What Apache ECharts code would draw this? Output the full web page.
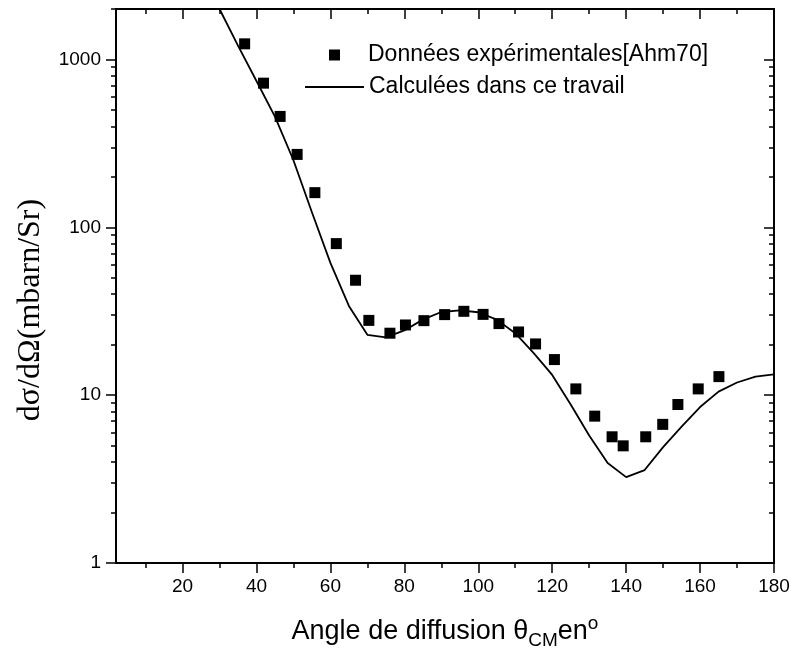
<!DOCTYPE html>
<html>
<head>
<meta charset="utf-8">
<script src="https://cdn.jsdelivr.net/npm/echarts@6/dist/echarts.min.js"></script>
<style>
html,body{margin:0;padding:0;background:#fff;}
#chart{width:795px;height:658px;}
</style>
</head>
<body>
<div id="chart"></div>
<script>
// ---- data ----
const expAngles = [36.8, 41.9, 46.4, 51.0, 55.8, 61.6, 66.8, 70.4, 76.1, 80.3, 85.3, 90.9, 96.1, 101.3, 105.6, 110.9, 115.5, 120.6, 126.4, 131.5, 136.2, 139.2, 145.3, 149.9, 154.0, 159.5, 165.1];
const expValues = [1240, 723, 458, 272, 161, 80, 48.4, 27.9, 23.4, 26.2, 27.8, 30.2, 31.6, 30.3, 26.7, 23.8, 20.2, 16.3, 10.9, 7.5, 5.65, 4.99, 5.65, 6.7, 8.8, 10.9, 12.9];
const calcAngles = [30, 35, 40, 45, 50, 55, 60, 65, 70, 75, 80, 85, 90, 95, 100, 105, 110, 115, 120, 125, 130, 135, 140, 145, 150, 155, 160, 165, 170, 175, 180];
const calcValues = [2000, 1210, 745, 457, 251, 123, 61.4, 34, 22.9, 22.1, 24.3, 28.2, 31.3, 32, 31.2, 28.2, 23.4, 17.8, 13.2, 8.8, 5.75, 3.94, 3.25, 3.58, 4.9, 6.5, 8.5, 10.5, 11.9, 12.9, 13.3];
const xMajorTicks = [20, 40, 60, 80, 100, 120, 140, 160, 180];
const xMinorTicks = [10, 30, 50, 70, 90, 110, 130, 150, 170];
const yMajorTicks = [1, 10, 100, 1000];
const yMinorTicks = [2, 3, 4, 5, 6, 7, 8, 9, 20, 30, 40, 50, 60, 70, 80, 90, 200, 300, 400, 500, 600, 700, 800, 900, 2000];
const xMin = 2, xMax = 180, yMin = 1, yMax = 2000;
const seriesNames = ['Données expérimentales[Ahm70]', 'Calculées dans ce travail'];

// ---- chart ----
const SANS = '"Liberation Sans", Arial, Helvetica, sans-serif';
const SERIF = '"Liberation Serif", "Times New Roman", serif';
const black = '#000';
const lg = Math.log10;

function xAx(pos, ticks, len, inside, opts) {
  return Object.assign({
    type: 'value', position: pos, min: xMin, max: xMax,
    axisLine: { show: true, onZero: false, lineStyle: { color: black, width: 1.8 } },
    axisTick: { show: true, inside: inside, length: len, customValues: ticks, lineStyle: { color: black, width: 1.5 } },
    axisLabel: { show: false },
    splitLine: { show: false }
  }, opts || {});
}
function yAx(pos, ticks, len, inside, opts) {
  return Object.assign({
    type: 'value', position: pos, min: 0, max: lg(yMax),
    axisLine: { show: true, onZero: false, lineStyle: { color: black, width: 1.8 } },
    axisTick: { show: true, inside: inside, length: len, customValues: ticks.map(lg), lineStyle: { color: black, width: 1.5 } },
    axisLabel: { show: false },
    splitLine: { show: false }
  }, opts || {});
}

const chart = echarts.init(document.getElementById('chart'), null, { renderer: 'canvas' });
chart.setOption({
  animation: false,
  backgroundColor: '#fff',
  grid: { left: 116, right: 21, top: 9, bottom: 95, containLabel: false },
  xAxis: [
    xAx('bottom', xMajorTicks, 10, false, {
      axisLabel: { show: true, customValues: xMajorTicks, color: black, fontSize: 19, fontFamily: SANS, margin: 14 },
      name: 'Angle de diffusion θ{sub|CM}en{sup|o}',
      nameLocation: 'middle', nameGap: 51,
      nameTextStyle: {
        color: black, fontSize: 27, fontFamily: SANS, lineHeight: 36,
        rich: {
          sub: { fontSize: 19, fontFamily: SANS, color: black, verticalAlign: 'bottom', lineHeight: 18 },
          sup: { fontSize: 19, fontFamily: SANS, color: black, verticalAlign: 'top', lineHeight: 18 }
        }
      }
    }),
    xAx('bottom', xMinorTicks, 5, false),
    xAx('top', xMajorTicks, 10, true),
    xAx('top', xMinorTicks, 5, true)
  ],
  yAxis: [
    {
      type: 'log', logBase: 10, min: yMin, max: yMax, position: 'left',
      axisLine: { show: true, onZero: false, lineStyle: { color: black, width: 1.8 } },
      axisTick: { show: false }, axisLabel: { show: false }, splitLine: { show: false },
      name: 'dσ/dΩ(mbarn/Sr)', nameLocation: 'middle', nameGap: 69,
      nameTextStyle: { color: black, fontSize: 32, fontFamily: SERIF, padding: [0, 48, 0, 0] }
    },
    yAx('left', yMajorTicks, 10, false, {
      axisLabel: { show: true, customValues: yMajorTicks.map(lg), color: black, fontSize: 19, fontFamily: SANS, margin: 15,
        formatter: v => String(Math.round(Math.pow(10, v))) }
    }),
    yAx('left', yMinorTicks, 5, false),
    yAx('right', yMajorTicks, 10, true),
    yAx('right', yMinorTicks, 5, true)
  ],
  legend: [
    {
      data: [{ name: seriesNames[0], icon: 'rect', itemStyle: { color: black, opacity: 1 } }],
      left: 329, top: 43, orient: 'vertical', padding: 0,
      itemWidth: 11, itemHeight: 11, selectedMode: false,
      textStyle: { color: black, fontSize: 23, fontFamily: SANS, padding: [0, 0, 0, 23], lineHeight: 24 }
    },
    {
      data: [{ name: seriesNames[1], icon: 'rect', itemStyle: { color: black } }],
      left: 305, top: 75, orient: 'vertical', padding: 0,
      itemWidth: 59, itemHeight: 2, selectedMode: false,
      textStyle: { color: black, fontSize: 23, fontFamily: SANS, lineHeight: 24 }
    }
  ],
  series: [
    {
      name: seriesNames[0], type: 'scatter', xAxisIndex: 0, yAxisIndex: 0,
      symbol: 'rect', symbolSize: 11, itemStyle: { color: black, opacity: 1 },
      data: expAngles.map((a, i) => [a, expValues[i]])
    },
    {
      name: seriesNames[1], type: 'line', xAxisIndex: 0, yAxisIndex: 0,
      symbol: 'none', showSymbol: false, clip: true,
      lineStyle: { color: black, width: 1.8 }, itemStyle: { color: black },
      data: calcAngles.map((a, i) => [a, calcValues[i]])
    }
  ]
});
</script>
</body>
</html>
